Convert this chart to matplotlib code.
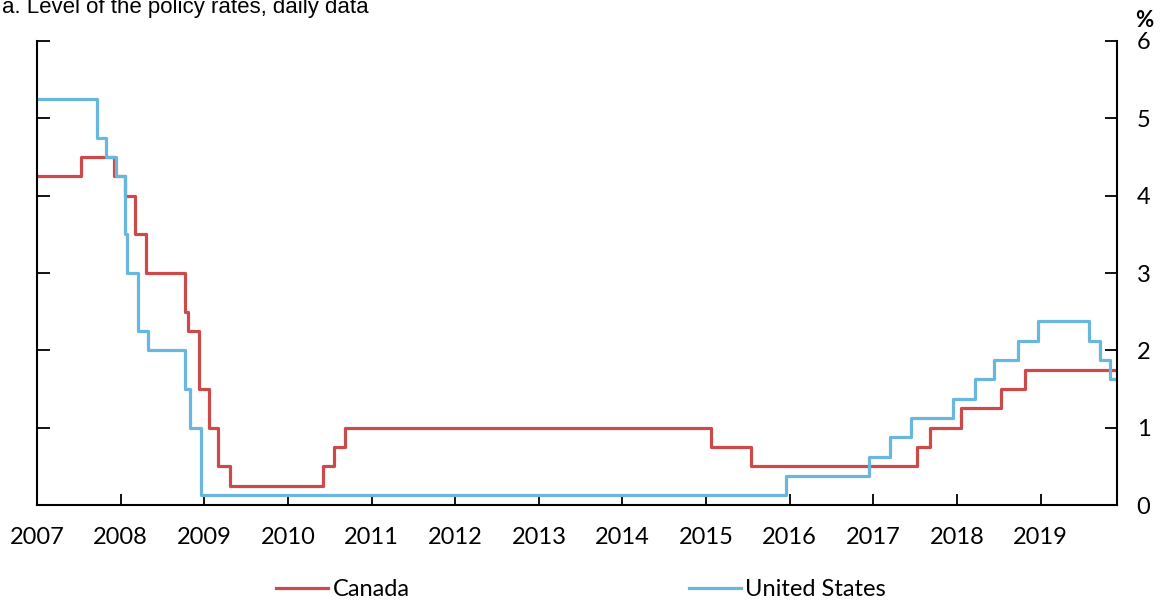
import datetime as dt
import matplotlib
matplotlib.use("Agg")
import matplotlib.pyplot as plt
import matplotlib.dates as mdates

# Canada overnight target rate (change dates, level in %)
ca_dates = ["2007-01-01", "2007-07-10", "2007-12-04", "2008-01-22", "2008-03-04",
            "2008-04-22", "2008-10-08", "2008-10-21", "2008-12-09", "2009-01-20",
            "2009-03-03", "2009-04-21", "2010-06-01", "2010-07-20", "2010-09-08",
            "2015-01-21", "2015-07-15", "2017-07-12", "2017-09-06", "2018-01-17",
            "2018-07-11", "2018-10-24", "2019-12-01"]
ca_rates = [4.25, 4.50, 4.25, 4.00, 3.50,
            3.00, 2.50, 2.25, 1.50, 1.00,
            0.50, 0.25, 0.50, 0.75, 1.00,
            0.75, 0.50, 0.75, 1.00, 1.25,
            1.50, 1.75, 1.75]

# United States fed funds target (mid-point of range after 2008)
us_dates = ["2007-01-01", "2007-09-18", "2007-10-31", "2007-12-11", "2008-01-22",
            "2008-01-30", "2008-03-18", "2008-04-30", "2008-10-08", "2008-10-29",
            "2008-12-16", "2015-12-16", "2016-12-14", "2017-03-15", "2017-06-14",
            "2017-12-13", "2018-03-21", "2018-06-13", "2018-09-26", "2018-12-19",
            "2019-07-31", "2019-09-18", "2019-10-30", "2019-12-01"]
us_rates = [5.25, 4.75, 4.50, 4.25, 3.50,
            3.00, 2.25, 2.00, 1.50, 1.00,
            0.125, 0.375, 0.625, 0.875, 1.125,
            1.375, 1.625, 1.875, 2.125, 2.375,
            2.125, 1.875, 1.625, 1.625]

years = list(range(2007, 2020))
title = "a. Level of the policy rates, daily data"

red = "#cd4a4a"
blue = "#69b7de"
tick_font = "Lato"

to_dt = lambda lst: [dt.datetime.strptime(s, "%Y-%m-%d") for s in lst]

fig = plt.figure(figsize=(11.6, 6.02), dpi=100)
ax = fig.add_axes([0.0319, 0.161, 0.963 - 0.0319, 0.932 - 0.161])

ax.plot(to_dt(ca_dates), ca_rates, drawstyle="steps-post", color=red, lw=2.3, label="Canada")
ax.plot(to_dt(us_dates), us_rates, drawstyle="steps-post", color=blue, lw=2.3, label="United States")

ax.set_xlim(dt.datetime(2007, 1, 1), dt.datetime(2019, 12, 1))
ax.set_ylim(0, 6)
ax.set_xticks([dt.datetime(y, 1, 1) for y in years])
ax.xaxis.set_major_formatter(mdates.DateFormatter("%Y"))
ax.set_yticks(range(0, 7))

for s in ["left", "right", "bottom"]:
    ax.spines[s].set_linewidth(1.5)
ax.spines["top"].set_visible(False)

ax.tick_params(axis="x", direction="in", length=8, width=1.3, pad=16, labelsize=17)
ax.tick_params(axis="y", direction="in", length=9, width=1.3, pad=14, labelsize=17,
               left=True, right=True, labelleft=False, labelright=True)
for lab in ax.get_xticklabels() + ax.get_yticklabels():
    lab.set_fontfamily(tick_font)

ax.text(1.025, 1.045, "%", transform=ax.transAxes, fontsize=16, fontweight="bold",
        fontfamily=tick_font, ha="center", va="center")

fig.text(0.002, 0.979, title, fontsize=16, fontfamily="Liberation Sans", ha="left", va="baseline")

fig.legend(loc="center", bbox_to_anchor=(0.501, 0.02), ncol=2, frameon=False,
           prop={"family": tick_font, "size": 17}, handlelength=2.2, handletextpad=0.2,
           columnspacing=11.8)

fig.savefig("out.png", dpi=100)
